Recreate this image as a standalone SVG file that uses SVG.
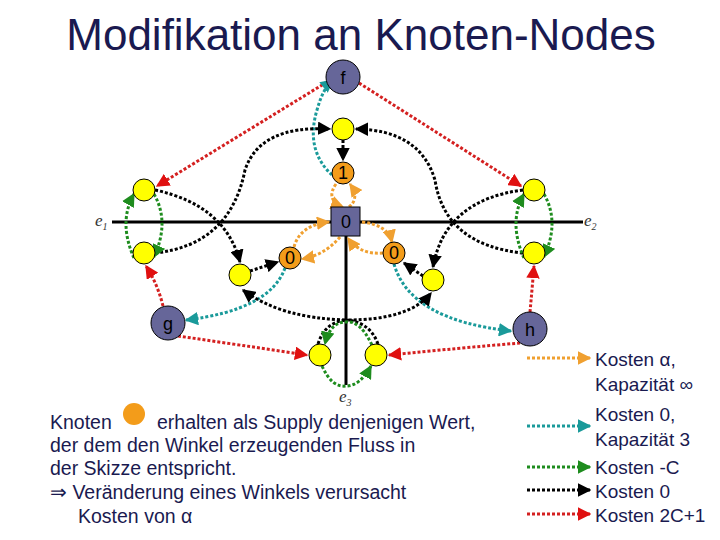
<svg xmlns="http://www.w3.org/2000/svg" width="720" height="540" viewBox="0 0 720 540">
<style>
.t{font-family:"Liberation Sans",Arial,sans-serif;fill:#1a1a50}
.c{stroke-width:3;stroke-dasharray:3 2;fill:none}
.r{stroke:#d42020}.b{stroke:#000}.g{stroke:#1e8c1e}.q{stroke:#1a9a9a}.o{stroke:#f0a030}
.y{fill:#ffff00;stroke:#000;stroke-width:1}
.p{fill:#666699;stroke:#000;stroke-width:1}
.or{fill:#f39c1a;stroke:#000;stroke-width:1}
.n{font-family:"Liberation Sans",Arial,sans-serif;font-size:18px;fill:#000;text-anchor:middle}
.e{font-family:"Liberation Serif",serif;font-style:italic;font-size:17px;fill:#333}
</style>
<defs>
<marker id="mr" viewBox="0 0 10 10" refX="9" refY="5" markerWidth="4.5" markerHeight="4.5" orient="auto"><path d="M0 0L10 5L0 10z" fill="#e01010"/></marker>
<marker id="mb" viewBox="0 0 10 10" refX="9" refY="5" markerWidth="4.5" markerHeight="4.5" orient="auto"><path d="M0 0L10 5L0 10z" fill="#000"/></marker>
<marker id="mg" viewBox="0 0 10 10" refX="9" refY="5" markerWidth="4.5" markerHeight="4.5" orient="auto"><path d="M0 0L10 5L0 10z" fill="#1e8c1e"/></marker>
<marker id="mq" viewBox="0 0 10 10" refX="9" refY="5" markerWidth="4.5" markerHeight="4.5" orient="auto"><path d="M0 0L10 5L0 10z" fill="#1a9a9a"/></marker>
<marker id="mo" viewBox="0 0 10 10" refX="9" refY="5" markerWidth="4.5" markerHeight="4.5" orient="auto"><path d="M0 0L10 5L0 10z" fill="#f0a030"/></marker>
</defs>
<text class="t" x="361" y="50" font-size="44" text-anchor="middle">Modifikation an Knoten-Nodes</text>
<g id="axes" stroke="#000" stroke-width="3">
<line x1="112" y1="222" x2="583" y2="222"/>
<line x1="346" y1="236" x2="346" y2="385"/>
</g>
<text class="e" x="95" y="226">e<tspan font-size="10" dy="4">1</tspan></text>
<text class="e" x="584" y="226">e<tspan font-size="10" dy="4">2</tspan></text>
<text class="e" x="339" y="402">e<tspan font-size="10" dy="4">3</tspan></text>
<g id="connectors">
<path class="c r" marker-end="url(#mr)" d="M327 82L157 186"/>
<path class="c r" marker-end="url(#mr)" d="M359 83L521 186"/>
<path class="c r" marker-end="url(#mr)" d="M163 306Q158 285 146 266"/>
<path class="c r" marker-end="url(#mr)" d="M530 312Q532 290 534 266"/>
<path class="c r" marker-end="url(#mr)" d="M178 336Q240 345 307 355"/>
<path class="c r" marker-end="url(#mr)" d="M520 343Q460 348 389 355"/>
<path class="c q" marker-end="url(#mq)" d="M332 175Q305 150 317 110Q323 88 333 80"/>
<path class="c q" marker-end="url(#mq)" d="M285 268Q270 310 186 320"/>
<path class="c q" marker-end="url(#mq)" d="M394 264Q410 320 511 331"/>
<path class="c b" marker-end="url(#mb)" d="M343 140L343 160"/>
<path class="c b" marker-end="url(#mb)" d="M155 253Q230 245 245 170Q260 125 330 129"/>
<path class="c b" marker-end="url(#mb)" d="M523 253Q445 245 435 180Q420 130 356 129"/>
<path class="c b" marker-end="url(#mb)" d="M155 190Q225 205 240 262"/>
<path class="c b" marker-end="url(#mb)" d="M523 190Q445 200 433 267"/>
<path class="c b" marker-end="url(#mb)" d="M250 271L278 262"/>
<path class="c b" marker-end="url(#mb)" d="M423 276L404 263"/>
<path class="c b" marker-end="url(#mb)" d="M318 344Q325 322 346 320Q280 318 243 290"/>
<path class="c b" marker-end="url(#mb)" d="M378 344Q370 322 346 320Q410 320 431 293"/>
<path class="c g" marker-end="url(#mg)" d="M134 258Q118 222 134 194"/>
<path class="c g" marker-end="url(#mg)" d="M154 194Q170 222 154 257"/>
<path class="c g" marker-end="url(#mg)" d="M524 258Q508 222 524 194"/>
<path class="c g" marker-end="url(#mg)" d="M544 194Q560 222 544 257"/>
<path class="c g" marker-end="url(#mg)" d="M372 345Q360 320 346 322Q330 322 325 344"/>
<path class="c g" marker-end="url(#mg)" d="M322 366Q332 388 346 386Q360 386 371 366"/>
<path class="c o" marker-end="url(#mo)" d="M336 184Q325 200 343 207"/>
<path class="c o" marker-end="url(#mo)" d="M349 207Q360 198 350 184"/>
<path class="c o" marker-end="url(#mo)" d="M294 247Q300 225 329 222"/>
<path class="c o" marker-end="url(#mo)" d="M340 237Q325 255 302 259"/>
<path class="c o" marker-end="url(#mo)" d="M362 222Q388 225 392 242"/>
<path class="c o" marker-end="url(#mo)" d="M383 253Q360 255 348 238"/>
</g>
<g id="f"><circle class="p" cx="343" cy="77" r="17"/><text class="n" x="343" y="84">f</text></g>
<g id="g"><circle class="p" cx="168" cy="323" r="17"/><text class="n" x="168" y="330">g</text></g>
<g id="h"><circle class="p" cx="530" cy="329" r="17"/><text class="n" x="530" y="336">h</text></g>
<g id="sq"><rect class="p" x="331" y="207" width="29" height="29"/><text class="n" x="346" y="228">0</text></g>
<g id="o1"><circle class="or" cx="343" cy="173" r="11"/><text class="n" x="343" y="179">1</text></g>
<g id="o0l"><circle class="or" cx="290" cy="258" r="11"/><text class="n" x="290" y="264">0</text></g>
<g id="o0r"><circle class="or" cx="394" cy="253" r="11"/><text class="n" x="394" y="259">0</text></g>
<g id="yellows">
<circle class="y" cx="343" cy="129" r="11"/>
<circle class="y" cx="144" cy="190" r="11"/>
<circle class="y" cx="144" cy="253" r="11"/>
<circle class="y" cx="534" cy="190" r="11"/>
<circle class="y" cx="534" cy="253" r="11"/>
<circle class="y" cx="240" cy="275" r="11"/>
<circle class="y" cx="433" cy="280" r="11"/>
<circle class="y" cx="320" cy="355" r="11"/>
<circle class="y" cx="376" cy="355" r="11"/>
</g>
<g id="legend">
<path class="c o" marker-end="url(#mo)" d="M527 358L590 358"/>
<path class="c q" marker-end="url(#mq)" d="M527 426L590 426"/>
<path class="c g" marker-end="url(#mg)" d="M527 467L590 467"/>
<path class="c b" marker-end="url(#mb)" d="M527 490L590 490"/>
<path class="c r" marker-end="url(#mr)" d="M527 514L590 514"/>
<g class="t" font-size="19">
<text x="595" y="366">Kosten α,</text>
<text x="595" y="391">Kapazität ∞</text>
<text x="595" y="421">Kosten 0,</text>
<text x="595" y="446">Kapazität 3</text>
<text x="595" y="474">Kosten -C</text>
<text x="595" y="498">Kosten 0</text>
<text x="595" y="522">Kosten 2C+1</text>
</g>
</g>
<g id="note" class="t" font-size="19.5">
<text x="50" y="429">Knoten</text>
<circle cx="134" cy="414" r="11" fill="#f39c1a"/>
<text x="157" y="429">erhalten als Supply denjenigen Wert,</text>
<text x="50" y="452">der dem den Winkel erzeugenden Fluss in</text>
<text x="50" y="475">der Skizze entspricht.</text>
<text x="50" y="499">⇒ Veränderung eines Winkels verursacht</text>
<text x="78" y="523">Kosten von α</text>
</g>
</svg>
